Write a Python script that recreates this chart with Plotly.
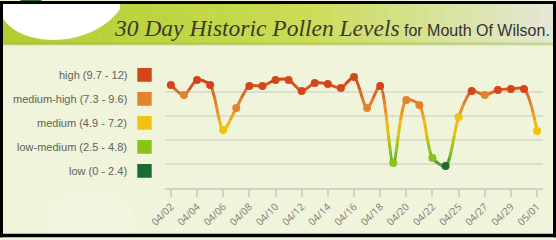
import plotly.graph_objects as go

# ---------------- data ----------------
dates = ["04/02", "04/03", "04/04", "04/05", "04/06", "04/07", "04/08", "04/09",
         "04/10", "04/11", "04/12", "04/13", "04/14", "04/15", "04/16", "04/17",
         "04/18", "04/19", "04/20", "04/21", "04/22", "04/23", "04/25", "04/26",
         "04/27", "04/28", "04/29", "04/30", "05/01"]
pollen = [10.3, 9.3, 10.8, 10.3, 5.8, 8.0, 10.2, 10.2, 10.8, 10.8, 9.7, 10.5,
          10.4, 10.0, 11.1, 8.0, 10.2, 2.5, 8.8, 8.3, 3.0, 2.2, 7.1, 9.7,
          9.3, 9.8, 9.9, 9.9, 5.7]
tick_dates = dates[::2]

level_names = ["high (9.7 - 12)", "medium-high (7.3 - 9.6)", "medium (4.9 - 7.2)",
               "low-medium (2.5 - 4.8)", "low (0 - 2.4)"]
level_low = [9.7, 7.3, 4.9, 2.5, 0.0]
level_top = [12.0, 9.6, 7.2, 4.8, 2.4]

# ---------------- style ----------------
level_colors = ["#d3461b", "#e3832b", "#f0c30f", "#8bc11b", "#1b6b30"]
W, H = 556, 240
L, R, T, B = 165, 13, 68, 50
PW, PH = W - L - R, H - T - B
YMAX = 12.0


def px(X):
    return (X - L) / PW


def py(Y):
    return (H - B - Y) / PH


def hex2rgb(h):
    h = h.lstrip("#")
    return tuple(int(h[i:i + 2], 16) for i in (0, 2, 4))


def lerp_color(c1, c2, t):
    a, b = hex2rgb(c1), hex2rgb(c2)
    return "rgb(%d,%d,%d)" % tuple(round(a[i] + (b[i] - a[i]) * t) for i in range(3))


anchors = [(1.2, level_colors[4]), (3.6, level_colors[3]), (6.0, level_colors[2]),
           (8.4, level_colors[1]), (10.8, level_colors[0])]


def grad_color(v):
    if v <= anchors[0][0]:
        return anchors[0][1]
    if v >= anchors[-1][0]:
        return anchors[-1][1]
    for (v1, c1), (v2, c2) in zip(anchors, anchors[1:]):
        if v1 <= v <= v2:
            return lerp_color(c1, c2, (v - v1) / (v2 - v1))


def level_color(v):
    for lo, c in zip(level_low, level_colors):
        if v >= lo:
            return c
    return level_colors[-1]


fig = go.Figure()
layout_axes = {}

fig.add_trace(go.Scatter(x=dates, y=pollen, mode="lines", line=dict(width=0),
                         hoverinfo="skip", showlegend=False, xaxis="x", yaxis="y",
                         opacity=0))

# gradient line: the same series drawn in stacked bands, each clipped by its own axis
NB = 16
for k in range(NB):
    a, b = YMAX * k / NB, YMAX * (k + 1) / NB
    ax = "y%d" % (k + 2)
    fig.add_trace(go.Scatter(x=dates, y=pollen, mode="lines",
                             line=dict(color=grad_color((a + b) / 2), width=3,
                                       shape="spline", smoothing=0.8, simplify=False),
                             hoverinfo="skip", showlegend=False, xaxis="x", yaxis=ax))
    layout_axes["yaxis%d" % (k + 2)] = dict(domain=[a / YMAX, b / YMAX], range=[a, b],
                                             anchor="x", visible=False, fixedrange=True)

mk = "y%d" % (NB + 2)
fig.add_trace(go.Scatter(x=dates, y=pollen, mode="markers",
                         marker=dict(size=8, color=[level_color(v) for v in pollen],
                                     line=dict(width=0)),
                         cliponaxis=False, showlegend=False, xaxis="x", yaxis=mk))
layout_axes["yaxis%d" % (NB + 2)] = dict(domain=[0, 1], range=[0, YMAX], anchor="x",
                                          visible=False, fixedrange=True)

shapes = []
# title bar gradient
n_strip = 40
for i in range(n_strip):
    x0 = 3 + (553 - 3) * i / n_strip
    x1 = 3 + (553 - 3) * (i + 1) / n_strip + 0.5
    t = i / (n_strip - 1)
    c = lerp_color("#b3cc30", "#cadc55", t / 0.55) if t < 0.55 else lerp_color("#cadc55", "#e4e7d3", (t - 0.55) / 0.45)
    shapes.append(dict(type="rect", xref="paper", yref="paper", x0=px(x0), x1=px(x1),
                       y0=py(44), y1=py(0), fillcolor=c, line=dict(width=0), layer="below"))
shapes.append(dict(type="rect", xref="paper", yref="paper", x0=px(3), x1=px(553),
                   y0=py(45), y1=py(42), fillcolor="rgba(150,180,50,0.4)",
                   line=dict(width=0), layer="below"))
# white arc top-left
path = "M %f,%f L %f,%f C %f,%f %f,%f %f,%f L %f,%f Z" % (
    px(3), py(0), px(3), py(18), px(25), py(50), px(94), py(46), px(120), py(8),
    px(120), py(0))
shapes.append(dict(type="path", xref="paper", yref="paper", path=path,
                   fillcolor="#ffffff", line=dict(width=0), layer="below"))
shapes.append(dict(type="circle", xref="paper", yref="paper", x0=px(16), x1=px(46),
                   y0=py(2), y1=py(-16), fillcolor="#2f6a3a", line=dict(width=0),
                   layer="below"))
# soft whitish blob lower-left
shapes.append(dict(type="circle", xref="paper", yref="paper", x0=px(45), x1=px(135),
                   y0=py(255), y1=py(192), fillcolor="rgba(250,252,238,0.25)",
                   line=dict(width=0), layer="below"))

# legend boxes
for name, top, c in zip(level_names, level_top, level_colors):
    shapes.append(dict(type="rect", xref="paper", yref="y", x0=px(137.3), x1=px(151.7),
                       y0=top - 14 * YMAX / PH, y1=top, fillcolor=c,
                       line=dict(width=0), layer="above"))

# black frame
for (x0, y0, x1, y1) in [(0, 0, 556, 3), (0, 236.5, 556, 240), (0, 0, 3, 240),
                         (553, 0, 556, 240)]:
    shapes.append(dict(type="rect", xref="paper", yref="paper", x0=px(x0), x1=px(x1),
                       y0=py(y1), y1=py(y0), fillcolor="#000000", line=dict(width=0),
                       layer="above"))

annotations = []
for name, top in zip(level_names, level_top):
    annotations.append(dict(text=name, xref="paper", yref="y", x=px(129),
                            y=top - 7 * YMAX / PH, xanchor="right", yanchor="middle",
                            showarrow=False,
                            font=dict(family="Liberation Sans, Arial", size=11,
                                      color="#62625a")))
annotations.append(dict(text="<i>30 Day Historic Pollen Levels</i>", xref="paper",
                        yref="paper", x=px(112), y=py(27), xanchor="left",
                        yanchor="middle", showarrow=False,
                        font=dict(family="Liberation Serif, serif", size=23.5,
                                  color="#3a3a2c")))
annotations.append(dict(text="for Mouth Of Wilson.", xref="paper", yref="paper",
                        x=px(552), y=py(30), xanchor="right", yanchor="middle",
                        showarrow=False,
                        font=dict(family="Liberation Sans, Arial", size=16,
                                  color="#333333")))

fig.update_layout(
    width=W, height=H,
    margin=dict(l=L, r=R, t=T, b=B, pad=0),
    paper_bgcolor="#eff4da",
    plot_bgcolor="rgba(0,0,0,0)",
    showlegend=False,
    shapes=shapes,
    annotations=annotations,
    xaxis=dict(type="category", range=[-0.45, len(dates) - 0.55], anchor="y",
               tickmode="array", tickvals=tick_dates, ticktext=tick_dates,
               tickangle=-45, ticks="outside", ticklen=7, tickwidth=1.5,
               tickcolor="#cfd3c4", showline=True, linecolor="#d0d4c6", linewidth=2,
               showgrid=False, zeroline=False, fixedrange=True,
               tickfont=dict(family="Open Sans, Arial", size=10, color="#7e7e77")),
    yaxis=dict(range=[0, YMAX + 0.001], domain=[0, 1], anchor="x", tickmode="array",
               tickvals=level_top, showticklabels=False, showgrid=True,
               gridcolor="#dcdfcf", gridwidth=1.5, zeroline=False, showline=False,
               ticks="", fixedrange=True),
    **layout_axes,
)

fig.write_html("out.html")
